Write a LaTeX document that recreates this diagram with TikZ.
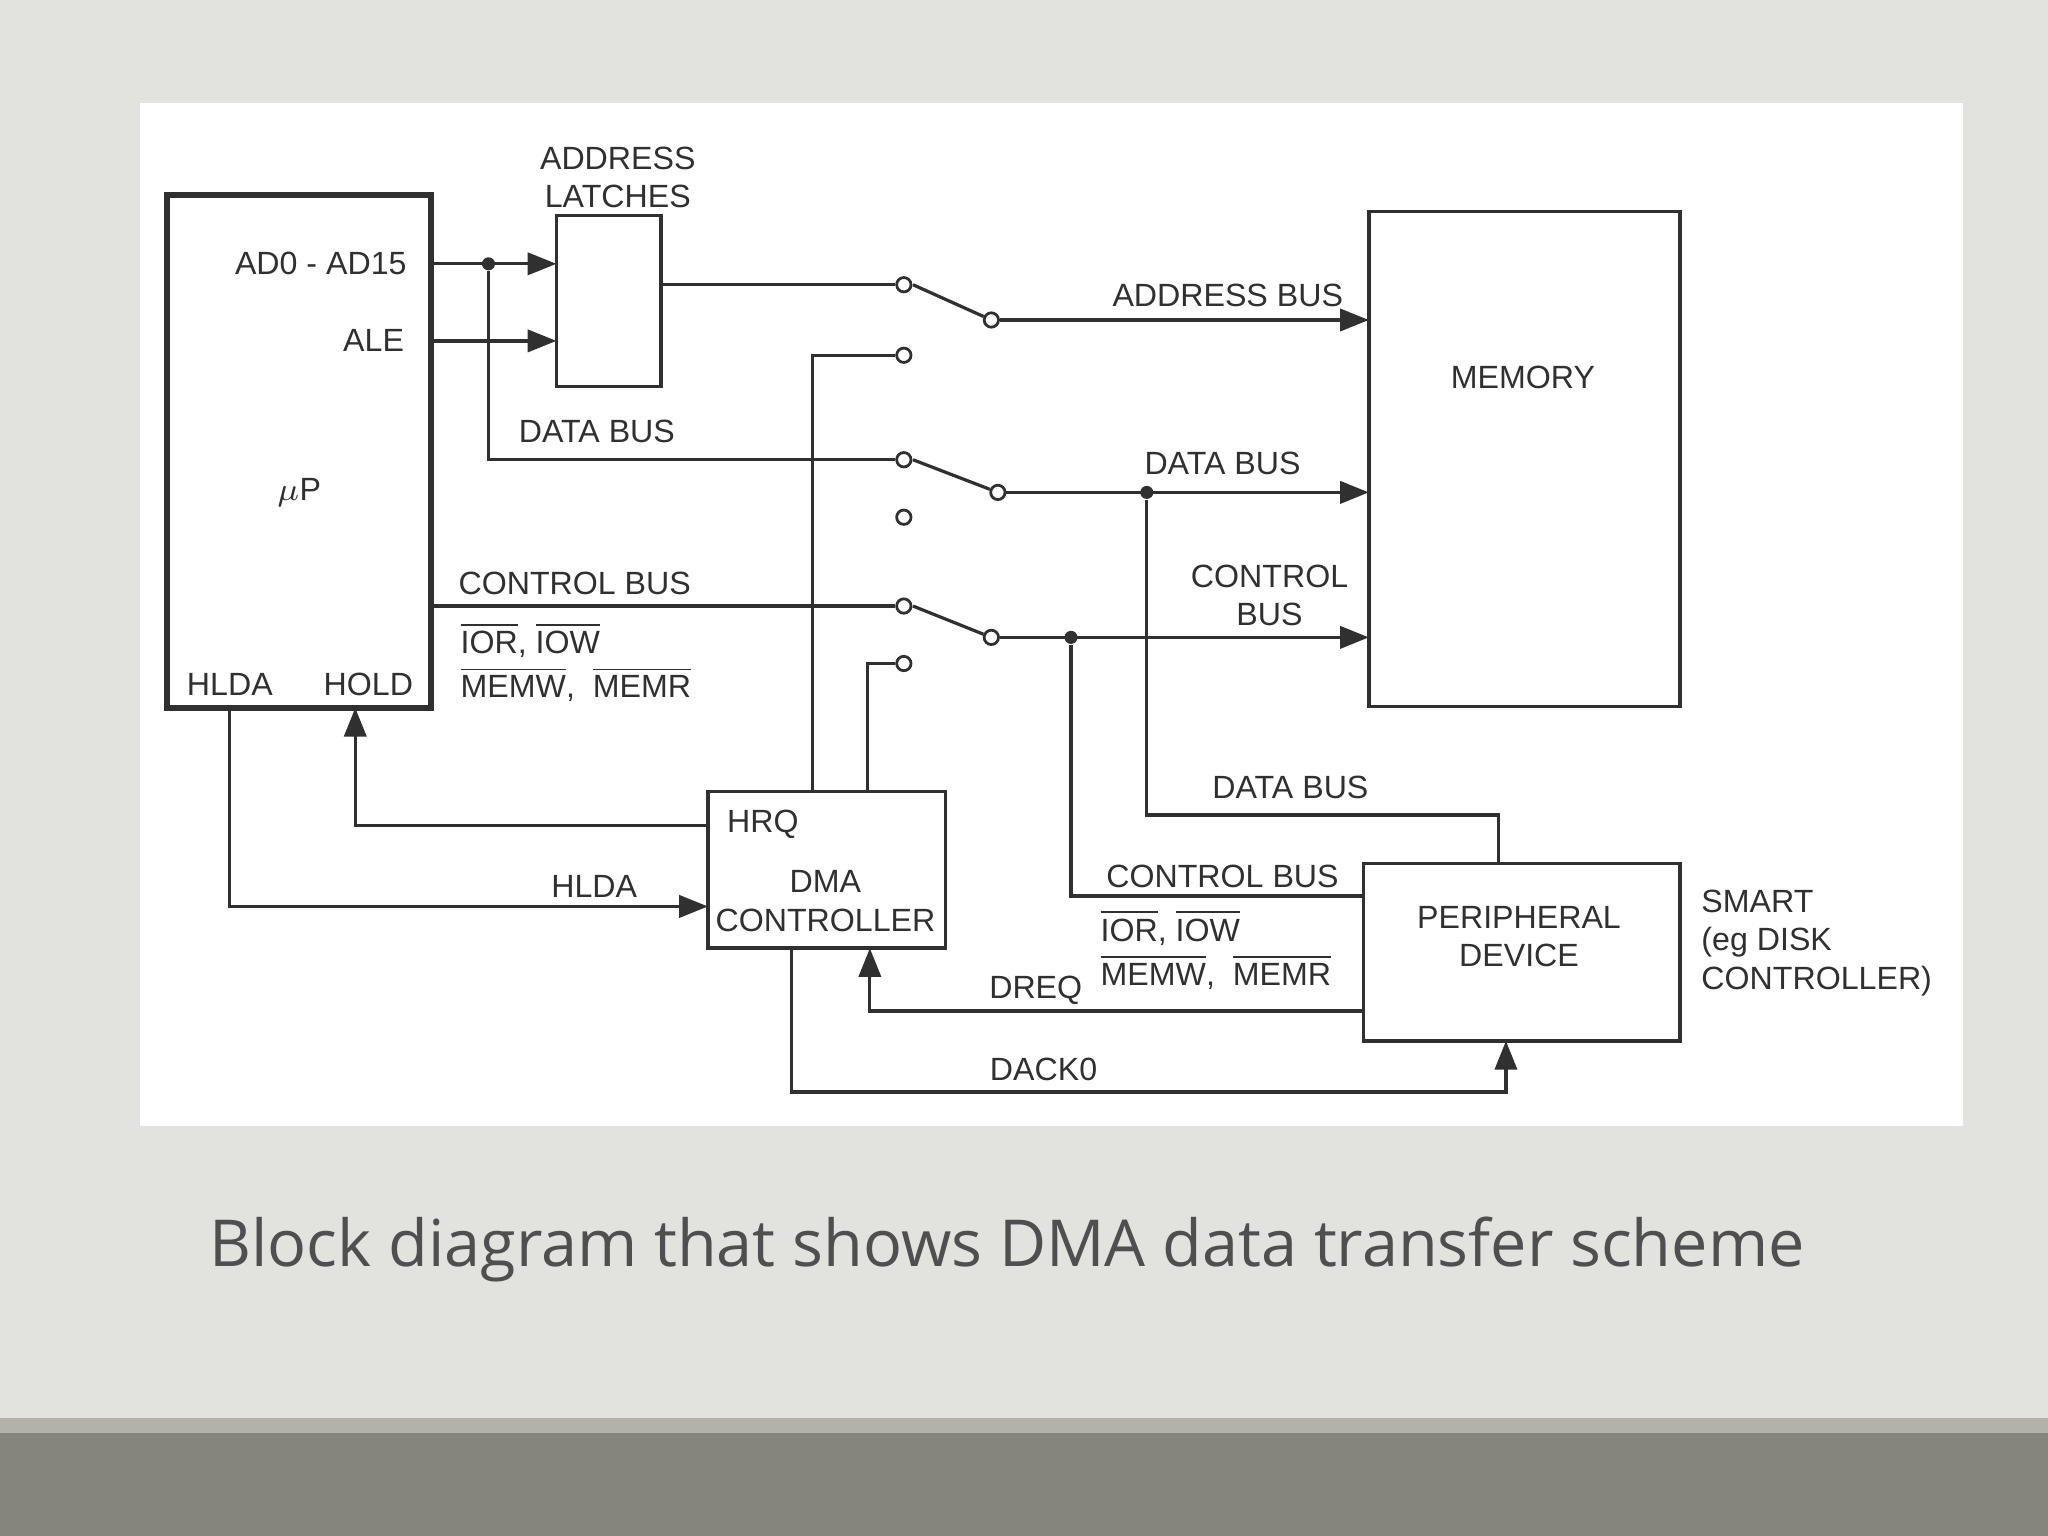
\documentclass[tikz,border=0pt]{standalone}
\usepackage{fontspec}
\setmainfont{Liberation Sans}
\newfontfamily\capfont{Open Sans}
\usetikzlibrary{arrows.meta, positioning}
\definecolor{slidebg}{HTML}{E2E2DE}
\definecolor{bandlt}{HTML}{B2B2AA}
\definecolor{banddk}{HTML}{85857D}
\definecolor{captxt}{HTML}{4F4F4F}
\definecolor{wire}{HTML}{303030}
\begin{document}
\begin{tikzpicture}[
    x=0.01cm, y=-0.01cm,
    >={Triangle[length=2.2mm,width=1.7mm]},
    block/.style={draw=wire, line width=0.8pt, inner sep=0pt},
    lbl/.style={font=\fontsize{7pt}{8.4pt}\selectfont, text=wire, inner sep=0pt, align=center},
    contact/.style={circle, draw=wire, line width=0.6pt, fill=white, minimum size=0.11cm, inner sep=0pt},
    bus/.style={draw=wire, line width=0.7pt},
    junct/.style={circle, fill=wire, minimum size=0.1cm, inner sep=0pt},
]
    % slide background
    \fill[slidebg] (0,0) rectangle (1568,1176);
    \fill[bandlt] (0,1086) rectangle (1568,1097);
    \fill[banddk] (0,1097) rectangle (1568,1176);
    \fill[white] (107,79) rectangle (1503,862);
    \useasboundingbox (0,0) rectangle (1568,1176);

    % blocks
    \draw[block, line width=1.3pt] (128,149) rectangle (330,542);
    \draw[block] (426,165) rectangle (506,296);
    \draw[block] (1048,162) rectangle (1286,541);
    \draw[block] (542,606) rectangle (724,726);
    \draw[block] (1044,661) rectangle (1286,797);

    % switch contacts
    \node[contact] (sa1) at (692,218) {};
    \node[contact] (sa2) at (692,272) {};
    \node[contact] (sa3) at (759,245) {};
    \node[contact] (sd1) at (692,352) {};
    \node[contact] (sd2) at (692,396) {};
    \node[contact] (sd3) at (764,377) {};
    \node[contact] (sc1) at (692,464) {};
    \node[contact] (sc2) at (692,508) {};
    \node[contact] (sc3) at (759,488) {};
    \node[junct] (jad) at (374,202) {};
    \node[junct] (jdb) at (878,377) {};
    \node[junct] (jcb) at (820,488) {};

    % coordinates on block edges
    \coordinate (adout) at (330,202);
    \coordinate (alein) at (426,261);
    \coordinate (aleout) at (330,261);
    \coordinate (latin) at (426,202);
    \coordinate (latout) at (506,218);
    \coordinate (ctlout) at (330,464);
    \coordinate (memab) at (1048,245);
    \coordinate (memdb) at (1048,377);
    \coordinate (memcb) at (1048,488);
    \coordinate (holdin) at (272,542);
    \coordinate (hldaout) at (176,542);
    \coordinate (hrq) at (542,632);
    \coordinate (hldain) at (542,694);
    \coordinate (dmaa) at (622,606);
    \coordinate (dmac) at (664,606);
    \coordinate (dreqin) at (666,726);
    \coordinate (dackout) at (606,726);
    \coordinate (perdb) at (1147,661);
    \coordinate (percb) at (1044,686);
    \coordinate (perdreq) at (1044,774);
    \coordinate (perdack) at (1153,797);

    % wiring
    \draw[bus, ->] (adout) -- (latin);
    \draw[bus, ->] (aleout) -- (alein);
    \draw[bus] (jad) |- (sd1);
    \draw[bus] (latout) -- (sa1);
    \draw[bus] ([xshift=0.07cm]sa1.center) -- (sa3);
    \draw[bus, ->] (sa3) -- (memab);
    \draw[bus] (sa2) -| (dmaa);
    \draw[bus] ([xshift=0.07cm]sd1.center) -- (sd3);
    \draw[bus, ->] (sd3) -- (memdb);
    \draw[bus] (ctlout) -- (sc1);
    \draw[bus] ([xshift=0.07cm]sc1.center) -- (sc3);
    \draw[bus, ->] (sc3) -- (memcb);
    \draw[bus] (sc2) -| (dmac);
    \draw[bus, ->] (hrq) -| (holdin);
    \draw[bus, ->] (hldaout) |- (hldain);
    \draw[bus] (jdb) |- (1147,624) -- (perdb);
    \draw[bus] (jcb) |- (percb);
    \draw[bus, ->] (perdreq) -| (dreqin);
    \draw[bus, ->] (dackout) |- (1153,836) -- (perdack);

    % labels
    \node[lbl, anchor=east] (lad) at (312,202) {AD0 - AD15};
    \node[lbl, anchor=east] (lale) at (310,261) {ALE};
    \node[lbl] (lup) at (229,377) {$\mu$P};
    \node[lbl] (lhlda) at (176,524) {HLDA};
    \node[lbl] (lhold) at (282,524) {HOLD};
    \node[lbl] (llat) at (473,136) {ADDRESS\\LATCHES};
    \node[lbl] (ldb1) at (457,330) {DATA BUS};
    \node[lbl] (lab) at (940,226) {ADDRESS BUS};
    \node[lbl] (ldb2) at (936,355) {DATA BUS};
    \node[lbl] (lcb2) at (972,456) {CONTROL\\BUS};
    \node[lbl] (lcb1) at (440,447) {CONTROL BUS};
    \node[lbl, anchor=west] (lio1) at (352,490) {$\overline{\mbox{IOR}}$, $\overline{\mbox{IOW}}$};
    \node[lbl, anchor=west] (lmem1) at (352,524) {$\overline{\mbox{MEMW}}$,\ \ $\overline{\mbox{MEMR}}$};
    \node[lbl] (lmem) at (1166,289) {MEMORY};
    \node[lbl, anchor=west] (lhrq) at (556,631) {HRQ};
    \node[lbl] (ldma) at (632,690) {DMA\\CONTROLLER};
    \node[lbl] (lhlda2) at (455,679) {HLDA};
    \node[lbl] (lper) at (1163,717) {PERIPHERAL\\DEVICE};
    \node[lbl, anchor=west] (lsmart) at (1302,722) {\begin{tabular}{@{}l@{}}SMART\\(eg DISK\\CONTROLLER)\end{tabular}};
    \node[lbl] (ldb3) at (988,603) {DATA BUS};
    \node[lbl] (lcb3) at (936,671) {CONTROL BUS};
    \node[lbl, anchor=west] (lio2) at (842,710) {$\overline{\mbox{IOR}}$, $\overline{\mbox{IOW}}$};
    \node[lbl, anchor=west] (lmem2) at (842,744) {$\overline{\mbox{MEMW}}$,\ \ $\overline{\mbox{MEMR}}$};
    \node[lbl] (ldreq) at (793,758) {DREQ};
    \node[lbl] (ldack) at (799,819) {DACK0};

    % caption
    \node[font=\capfont\fontsize{14.1pt}{17pt}\selectfont, text=captxt] (cap) at (771,957) {Block diagram that shows DMA data transfer scheme};
\end{tikzpicture}
\end{document}
